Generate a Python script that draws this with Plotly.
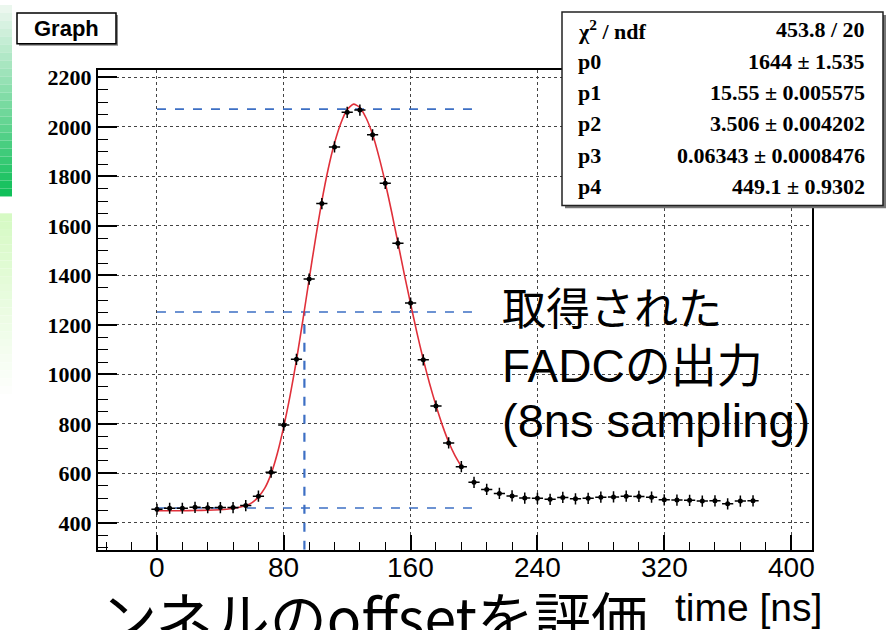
import plotly.graph_objects as go

W, H = 887, 630

# ---------------- data ----------------
sample_time = [0, 8, 16, 24, 32, 40, 48, 56, 64, 72, 80, 88, 96, 104, 112, 120,
               128, 136, 144, 152, 160, 168, 176, 184, 192, 200, 208, 216, 224, 232, 240, 248,
               256, 264, 272, 280, 288, 296, 304, 312, 320, 328, 336, 344, 352, 360, 368, 376]
adc_value = [455, 459, 459, 463, 461, 462, 462, 470, 508, 605, 795, 1061, 1385, 1690, 1919, 2059,
             2068, 1968, 1772, 1530, 1288, 1059, 872, 723, 627, 564, 535, 519, 509, 500, 499, 495,
             503, 497, 499, 504, 505, 508, 507, 504, 493, 492, 491, 488, 489, 477, 488, 489]

fit_time = [0, 8, 16, 24, 32, 40, 44, 48, 52, 56, 60, 64, 68, 72, 76, 80, 84, 88, 92, 96, 100,
            104, 108, 112, 116, 120, 124, 128, 132, 136, 140, 144, 148, 152, 156, 160, 164,
            168, 172, 176, 180, 184, 188, 192]
fit_value = [449, 449, 449, 450, 451, 453, 455, 458, 463, 470, 482, 505, 540, 598, 682, 790, 915,
             1058, 1218, 1385, 1548, 1700, 1830, 1935, 2015, 2070, 2092, 2078, 2035, 1970, 1880,
             1775, 1657, 1532, 1405, 1285, 1168, 1060, 962, 874, 795, 727, 672, 628]

ref_levels = [2072, 1252, 460]       # blue dashed horizontal guides
ref_x_span = [0, 203]
half_time = 93                        # blue dashed vertical guide

x_ticks = [0, 80, 160, 240, 320, 400]
y_ticks = [400, 600, 800, 1000, 1200, 1400, 1600, 1800, 2000, 2200]

stat_labels = ["χ<sup>2</sup> / ndf", "p0", "p1", "p2", "p3", "p4"]
stat_values = ["453.8 / 20", "1644 ± 1.535", "15.55 ± 0.005575", "3.506 ± 0.004202",
               "0.06343 ± 0.0008476", "449.1 ± 0.9302"]

note_lines = ["取得された", "FADCの出力", "(8ns sampling)"]

# ---------------- geometry helpers ----------------
def px(x):
    return x / W

def py(y):
    return 1 - y / H

X_RANGE = [-37.2, 413.2]
Y_RANGE = [291.8, 2228]

fig = go.Figure()

# blue dashed guides
for lvl in ref_levels:
    fig.add_trace(go.Scatter(x=ref_x_span, y=[lvl, lvl], mode="lines",
                             line=dict(color="#3d6fc4", width=1.6, dash="dash"),
                             hoverinfo="skip"))
fig.add_trace(go.Scatter(x=[half_time, half_time], y=[Y_RANGE[0], ref_levels[1]], mode="lines",
                         line=dict(color="#3d6fc4", width=2.2, dash="dash"), hoverinfo="skip"))

# fit curve
fig.add_trace(go.Scatter(x=fit_time, y=fit_value, mode="lines",
                         line=dict(color="#e0303a", width=1.6, shape="spline", smoothing=0.6),
                         hoverinfo="skip"))

# data points
fig.add_trace(go.Scatter(x=sample_time, y=adc_value, mode="markers",
                         marker=dict(symbol="cross-thin", size=8, line=dict(color="black", width=1.5)),
                         hoverinfo="skip"))
fig.add_trace(go.Scatter(x=sample_time, y=adc_value, mode="markers",
                         marker=dict(symbol="circle", size=5, color="black"),
                         hoverinfo="skip"))

fig.update_xaxes(domain=[px(98), px(812)], range=X_RANGE,
                 tickmode="array", tickvals=x_ticks, showticklabels=False,
                 ticks="inside", ticklen=15, tickwidth=2, tickcolor="black",
                 minor=dict(dtick=16, tick0=0, ticks="inside", ticklen=8, tickwidth=1.4,
                            tickcolor="black"),
                 showline=True, linewidth=2, linecolor="black", mirror=True,
                 showgrid=True, gridcolor="#444", gridwidth=1, griddash="dot",
                 zeroline=False)
fig.update_yaxes(domain=[py(549), py(66)], range=Y_RANGE,
                 tickmode="array", tickvals=y_ticks, ticktext=[str(v) for v in y_ticks],
                 ticks="inside", ticklen=19, tickwidth=2, tickcolor="black",
                 minor=dict(dtick=50, tick0=0, ticks="inside", ticklen=10, tickwidth=1.4,
                            tickcolor="black"),
                 showline=True, linewidth=2, linecolor="black", mirror=True,
                 showgrid=True, gridcolor="#444", gridwidth=1, griddash="dot",
                 zeroline=False,
                 tickfont=dict(family="Liberation Serif, Times New Roman", size=22,
                               color="black", weight="bold"))

shapes = []
# left slide decoration: green gradient bars
n = 24
for i in range(n):
    t = i / (n - 1)
    y0 = 0 + 193 * i / n
    y1 = 0 + 193 * (i + 1) / n
    r = int(235 + (16 - 235) * t)
    g = int(247 + (192 - 247) * t)
    b = int(238 + (90 - 238) * t)
    shapes.append(dict(type="rect", xref="paper", yref="paper", x0=0, x1=px(12),
                       y0=py(y1), y1=py(y0), fillcolor=f"rgb({r},{g},{b})", line=dict(width=0),
                       layer="below"))
for i in range(n):
    t = i / (n - 1)
    y0 = 210 + 190 * i / n
    y1 = 210 + 190 * (i + 1) / n
    r = int(214 + (255 - 214) * t)
    g = int(250 + (255 - 250) * t)
    b = int(196 + (255 - 196) * t)
    shapes.append(dict(type="rect", xref="paper", yref="paper", x0=0, x1=px(12),
                       y0=py(y1), y1=py(y0), fillcolor=f"rgb({r},{g},{b})", line=dict(width=0),
                       layer="below"))

# "Graph" title box
shapes.append(dict(type="rect", xref="paper", yref="paper", x0=px(19), x1=px(118),
                   y0=py(41), y1=py(10), fillcolor="#888", line=dict(width=0)))
shapes.append(dict(type="rect", xref="paper", yref="paper", x0=px(17), x1=px(116),
                   y0=py(39), y1=py(8), fillcolor="white", line=dict(color="black", width=1.5)))
# stats box
shapes.append(dict(type="rect", xref="paper", yref="paper", x0=px(565), x1=px(886),
                   y0=py(205), y1=py(10), fillcolor="#777", line=dict(width=0)))
shapes.append(dict(type="rect", xref="paper", yref="paper", x0=px(562), x1=px(883),
                   y0=py(202), y1=py(7), fillcolor="white", line=dict(color="#222", width=1.5)))
fig.update_layout(shapes=shapes)

ann = []
# x tick labels (slide text placed at the axis tick values)
for v in x_ticks:
    ann.append(dict(text=str(v), x=v, y=py(567), xref="x", yref="paper", showarrow=False,
                    xanchor="center", yanchor="middle",
                    font=dict(family="Liberation Sans, Arial", size=28, color="black")))

ann.append(dict(text="<b>Graph</b>", x=px(66.5), y=py(24), xref="paper", yref="paper",
                showarrow=False, xanchor="center", yanchor="middle",
                font=dict(family="Liberation Sans, Arial", size=22, color="black")))
for i, (lab, val) in enumerate(zip(stat_labels, stat_values)):
    yy = 25 + i * 31.6
    ann.append(dict(text=lab, x=px(576), y=py(yy), xref="paper", yref="paper", showarrow=False,
                    xanchor="left", yanchor="middle",
                    font=dict(family="Liberation Serif, Times New Roman", size=22,
                              color="black", weight="bold")))
    ann.append(dict(text=val, x=px(867), y=py(yy), xref="paper", yref="paper", showarrow=False,
                    xanchor="right", yanchor="middle",
                    font=dict(family="Liberation Serif, Times New Roman", size=22,
                              color="black", weight="bold")))

note_y = [307, 364, 419]
note_size = [44, 46, 47]
for txt, yy, sz in zip(note_lines, note_y, note_size):
    ann.append(dict(text=txt, x=px(500), y=py(yy), xref="paper", yref="paper",
                    showarrow=False, xanchor="left", yanchor="middle",
                    font=dict(family="Liberation Sans, Noto Sans CJK JP", size=sz, color="black")))
ann.append(dict(text="time [ns]", x=px(748), y=py(607), xref="paper", yref="paper",
                showarrow=False, xanchor="center", yanchor="middle",
                font=dict(family="Liberation Sans, Arial", size=39, color="black")))
ann.append(dict(text="ンネルのoffsetを評価", x=px(98), y=py(572), xref="paper", yref="paper",
                showarrow=False, xanchor="left", yanchor="top",
                font=dict(family="Noto Sans CJK JP, Liberation Sans", size=57, color="black")))
fig.update_layout(annotations=ann)

fig.update_layout(width=W, height=H, margin=dict(l=0, r=0, t=0, b=0),
                  paper_bgcolor="white", plot_bgcolor="white", showlegend=False)

fig.write_html("out.html")
